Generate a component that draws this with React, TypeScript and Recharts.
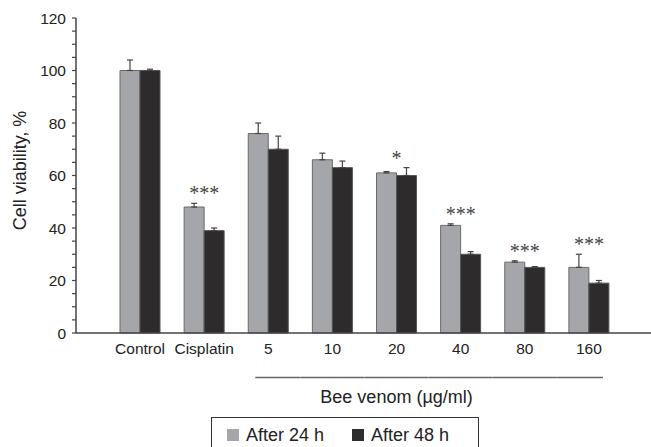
import { BarChart, Bar, XAxis, YAxis, ErrorBar, LabelList, Legend } from "recharts";

const groups = ["Control", "Cisplatin", "5", "10", "20", "40", "80", "160"];
const after24 = [100, 48, 76, 66, 61, 41, 27, 25];
const err24 = [4, 1.4, 4, 2.5, 0.5, 0.6, 0.5, 5];
const after48 = [100, 39, 70, 63, 60, 30, 25, 19];
const err48 = [0.5, 1, 5, 2.5, 3, 1, 0.3, 1];
const stars = ["", "***", "", "", "*", "***", "***", "***"];
const yTicks = [0, 5, 10, 15, 20, 25, 30, 35, 40, 45, 50, 55, 60, 65, 70, 75, 80, 85, 90, 95, 100, 105, 110, 115, 120];
const venom = ["5", "10", "20", "40", "80", "160"];

const data = groups.map((g, i) => ({
  group: g,
  h24: after24[i],
  h48: after48[i],
  e24: [0, err24[i]],
  e48: [0, err48[i]],
  sig: stars[i],
}));

const font = "'Liberation Sans', Arial, sans-serif";

function XTick(props: any) {
  const { x, y, payload } = props;
  const label = payload.value as string;
  const vi = venom.indexOf(label);
  let seg = null;
  if (vi >= 0) {
    const x1 = vi === 0 ? x - 13 : x - 32;
    const x2 = vi === venom.length - 1 ? x + 14 : x + 32;
    seg = <line x1={x1} x2={x2} y1={y + 44.5} y2={y + 44.5} stroke="#666" strokeWidth={1.5} />;
  }
  return (
    <g>
      <text x={x} y={y + 21} textAnchor="middle" fontSize={15.5} fill="#222" fontFamily={font}>
        {label}
      </text>
      {seg}
      {label === "20" && (
        <text x={x} y={y + 69.5} textAnchor="middle" fontSize={18} fill="#222" fontFamily={font}>
          Bee venom (µg/ml)
        </text>
      )}
    </g>
  );
}

function YTick(props: any) {
  const { x, y, payload } = props;
  if (payload.value % 20 !== 0) return <g />;
  return (
    <text x={x} y={y + 5.5} textAnchor="end" fontSize={15.5} fill="#222" fontFamily={font}>
      {payload.value}
    </text>
  );
}

function Stars(props: any) {
  const { x, y, width, height, index, value } = props;
  if (!value) return null;
  const ppu = height / after24[index];
  const top = Math.max(after24[index] + err24[index], after48[index] + err48[index]);
  const yTop = y + height - top * ppu;
  return (
    <text x={x + width} y={yTop - 3} textAnchor="middle" fontSize={20} fill="#444" fontFamily="'Liberation Serif', 'Times New Roman', serif">
      {value}
    </text>
  );
}

function LegendBox() {
  const item = (color: string, text: string) => (
    <span style={{ display: "inline-flex", alignItems: "center", marginRight: 28 }}>
      <span style={{ width: 12, height: 12, background: color, display: "inline-block", marginRight: 7 }} />
      <span>{text}</span>
    </span>
  );
  return (
    <div
      style={{
        boxSizing: "border-box",
        width: 268,
        height: 40,
        border: "1.5px solid #333",
        paddingLeft: 15,
        paddingTop: 6,
        fontFamily: font,
        fontSize: 18,
        color: "#222",
        whiteSpace: "nowrap",
        lineHeight: "22px",
      }}
    >
      {item("#a5a6aa", "After 24 h")}
      {item("#2e2b2c", "After 48 h")}
    </div>
  );
}

export default function App() {
  return (
    <div style={{ width: 651, height: 447, overflow: "hidden", position: "relative", background: "#fff" }}>
      <style>{"body{margin:0}"}</style>
      <BarChart
        width={651}
        height={447}
        data={data}
        margin={{ top: 18, right: 0, bottom: 0, left: 0 }}
        barSize={20}
        barGap={0}
      >
        <XAxis
          dataKey="group"
          height={114}
          padding={{ left: 32, right: 30 }}
          tickLine={false}
          tickSize={0}
          tickMargin={0}
          interval={0}
          axisLine={{ stroke: "#444", strokeWidth: 1.5 }}
          tick={<XTick />}
        />
        <YAxis
          width={76}
          domain={[0, 120]}
          ticks={yTicks}
          interval={0}
          tickSize={4}
          tickMargin={6}
          axisLine={{ stroke: "#444", strokeWidth: 1.5 }}
          tickLine={{ stroke: "#444", strokeWidth: 1.2 }}
          tick={<YTick />}
          label={{
            content: (p: any) => {
              const vb = p.viewBox;
              const cy = vb.y + vb.height / 2 - 5;
              return (
                <text x={26} y={cy} transform={`rotate(-90, 26, ${cy})`} textAnchor="middle" fontSize={18} fill="#222" fontFamily={font}>
                  Cell viability, %
                </text>
              );
            },
          }}
        />
        <Legend verticalAlign="middle" align="center" content={<LegendBox />} wrapperStyle={{ left: 211, top: 417, width: 268, height: 40 }} />
        <Bar dataKey="h24" name="After 24 h" fill="#a5a6aa" stroke="#6a6a6a" strokeWidth={1} isAnimationActive={false}>
          <ErrorBar dataKey="e24" width={3} stroke="#444" strokeWidth={1.2} direction="y" />
          <LabelList dataKey="sig" content={<Stars />} />
        </Bar>
        <Bar dataKey="h48" name="After 48 h" fill="#2e2b2c" stroke="#555" strokeWidth={1} isAnimationActive={false}>
          <ErrorBar dataKey="e48" width={3} stroke="#444" strokeWidth={1.2} direction="y" />
        </Bar>
      </BarChart>
    </div>
  );
}
